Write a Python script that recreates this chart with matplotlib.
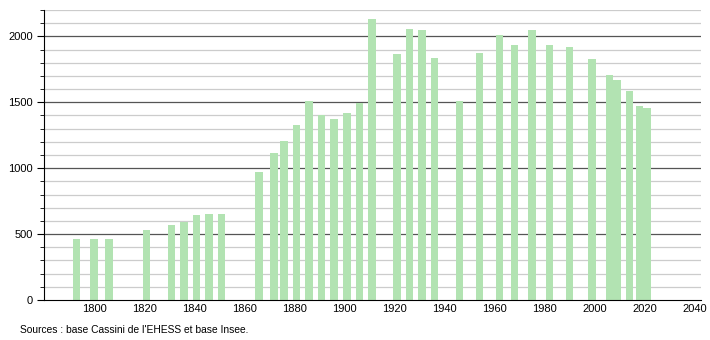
import numpy as np
import matplotlib
matplotlib.use('Agg')
import matplotlib.pyplot as plt

years = [1793, 1800, 1806, 1821, 1831, 1836, 1841, 1846, 1851,
         1866, 1872, 1876, 1881, 1886, 1891, 1896, 1901, 1906, 1911,
         1921, 1926, 1931, 1936, 1946, 1954, 1962, 1968, 1975, 1982,
         1990, 1999, 2006, 2009, 2014, 2018, 2021]
population = [465, 465, 465, 531, 569, 595, 648, 655, 655,
              974, 1114, 1207, 1329, 1511, 1405, 1372, 1418, 1494, 2131,
              1868, 2058, 2050, 1835, 1512, 1873, 2012, 1936, 2045, 1936,
              1918, 1827, 1708, 1670, 1589, 1473, 1455]
x_ticks = [1800, 1820, 1840, 1860, 1880, 1900, 1920, 1940, 1960, 1980,
           2000, 2020, 2040]
y_ticks = [0, 500, 1000, 1500, 2000]
source = "Sources : base Cassini de l'EHESS et base Insee."

plt.rcParams['font.family'] = ['Liberation Sans', 'DejaVu Sans']

fig = plt.figure(figsize=(7.1, 3.4), dpi=100)
ax = fig.add_axes([0.062, 0.1176, 0.925, 0.853])

ax.set_xlim(1780, 2042.5)
ax.set_ylim(0, 2200)

# grid: light every 100, dark every 500
for v in range(100, 2201, 100):
    if v % 500 == 0:
        ax.axhline(v, color='#555555', lw=0.9, zorder=1)
    else:
        ax.axhline(v, color='#cccccc', lw=0.9, zorder=1)

ax.bar(years, population, width=3, color='#b2e3b2', zorder=2)

ax.set_xticks(x_ticks)
ax.set_yticks(y_ticks)
ax.set_yticks(range(0, 2201, 100), minor=True)
ax.tick_params(axis='x', length=0, labelsize=8, pad=3)
ax.tick_params(axis='y', which='major', length=5, labelsize=8, pad=3)
ax.tick_params(axis='y', which='minor', length=3)

for s in ['top', 'right']:
    ax.spines[s].set_visible(False)

fig.text(0.028, 0.02, source, fontsize=7.4)

fig.savefig('out.png', dpi=100)
